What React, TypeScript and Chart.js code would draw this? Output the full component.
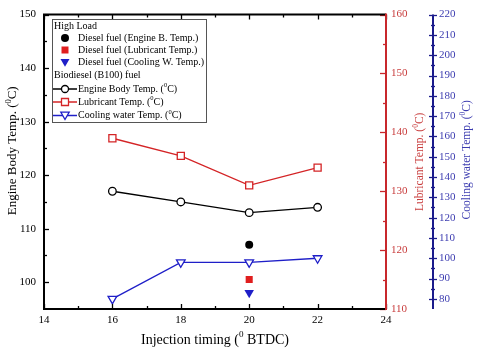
import React, { useEffect, useRef } from "react";
import { Chart, registerables } from "chart.js";

Chart.register(...registerables);

// ---- data ----
const injectionTiming = [16, 18, 20, 22];
const bioEngineBody = [117, 115, 113, 114];
const bioLubricant = [139, 136, 131, 134];
const bioCooling = [80, 98, 98, 100];
const dieselTiming = [20];
const dieselEngineBody = [107];
const dieselLubricant = [115];
const dieselCooling = [83];

const xTicks = [14, 16, 18, 20, 22, 24];
const leftTicks = [100, 110, 120, 130, 140, 150];
const redTicks = [110, 120, 130, 140, 150, 160];
const blueTicks = [80, 90, 100, 110, 120, 130, 140, 150, 160, 170, 180, 190, 200, 210, 220];

const legendTitle = "High Load";
const legendDieselLabels = [
  "Diesel fuel (Engine B. Temp.)",
  "Diesel fuel (Lubricant Temp.)",
  "Diesel fuel (Cooling W. Temp.)",
];
const legendBioTitle = "Biodiesel (B100) fuel";
const legendBioLabels = ["Engine Body Temp. (", "Lubricant Temp. (", "Cooling water Temp. ("];

const FONT = "'Liberation Serif', 'Times New Roman', serif";
const RED = "#d42426";
const RED_AXIS = "#c8282c";
const RED_TEXT = "#c83c3c";
const BLUE = "#1f1fc8";
const BLUE_AXIS = "#1c1c8c";
const BLUE_TEXT = "#3c3cb0";

type Part = { t: string; sup?: boolean };

function richWidth(ctx: CanvasRenderingContext2D, parts: Part[], size: number) {
  let w = 0;
  for (const p of parts) {
    ctx.font = `${p.sup ? size * 0.65 : size}px ${FONT}`;
    w += ctx.measureText(p.t).width;
  }
  return w;
}

function drawRich(
  ctx: CanvasRenderingContext2D,
  parts: Part[],
  x: number,
  y: number,
  size: number,
  color: string,
  align: "left" | "center"
) {
  const w = richWidth(ctx, parts, size);
  let cx = align === "center" ? x - w / 2 : x;
  ctx.fillStyle = color;
  ctx.textBaseline = "middle";
  ctx.textAlign = "left";
  for (const p of parts) {
    const s = p.sup ? size * 0.65 : size;
    ctx.font = `${s}px ${FONT}`;
    ctx.fillText(p.t, cx, p.sup ? y - size * 0.35 : y);
    cx += ctx.measureText(p.t).width;
  }
}

function drawMarker(
  ctx: CanvasRenderingContext2D,
  kind: string,
  x: number,
  y: number,
  r: number,
  color: string,
  filled: boolean
) {
  ctx.save();
  ctx.beginPath();
  if (kind === "circle") {
    ctx.arc(x, y, r, 0, Math.PI * 2);
  } else if (kind === "rect") {
    ctx.rect(x - r, y - r, 2 * r, 2 * r);
  } else {
    ctx.moveTo(x - r, y - r * 0.8);
    ctx.lineTo(x + r, y - r * 0.8);
    ctx.lineTo(x, y + r * 0.95);
    ctx.closePath();
  }
  if (filled) {
    ctx.fillStyle = color;
    ctx.fill();
  } else {
    ctx.fillStyle = "#fff";
    ctx.fill();
    ctx.strokeStyle = color;
    ctx.lineWidth = 1.3;
    ctx.stroke();
  }
  ctx.restore();
}

const framePlugin = {
  id: "frame",
  afterDraw(chart: any) {
    const ctx: CanvasRenderingContext2D = chart.ctx;
    const { left, right, top, bottom } = chart.chartArea;
    const sx = chart.scales.x;
    const sy = chart.scales.y;
    const sr = chart.scales.yRed;
    const sb = chart.scales.yBlue;
    ctx.save();
    ctx.lineCap = "butt";

    // x ticks bottom and top
    ctx.strokeStyle = "#000";
    ctx.lineWidth = 1.3;
    for (let v = 14; v <= 24; v += 1) {
      const px = Math.round(sx.getPixelForValue(v)) + 0.5;
      const len = v % 2 === 0 ? 5 : 3;
      ctx.beginPath();
      ctx.moveTo(px, bottom);
      ctx.lineTo(px, bottom - len);
      ctx.moveTo(px, top);
      ctx.lineTo(px, top + len);
      ctx.stroke();
    }
    // left ticks
    for (let v = 100; v <= 150; v += 5) {
      const py = Math.round(sy.getPixelForValue(v)) + 0.5;
      const len = v % 10 === 0 ? 5 : 3;
      ctx.beginPath();
      ctx.moveTo(left, py);
      ctx.lineTo(left + len, py);
      ctx.stroke();
    }
    // red ticks
    ctx.strokeStyle = RED_AXIS;
    for (let v = 110; v <= 160; v += 5) {
      const py = Math.round(sr.getPixelForValue(v)) + 0.5;
      const len = v % 10 === 0 ? 6 : 3;
      ctx.beginPath();
      ctx.moveTo(right, py);
      ctx.lineTo(right - len, py);
      ctx.stroke();
    }
    // blue axis
    const bx = sb.left;
    ctx.strokeStyle = BLUE_AXIS;
    ctx.lineWidth = 1.3;
    for (let v = 80; v <= 220; v += 5) {
      const py = Math.round(sb.getPixelForValue(v)) + 0.5;
      const len = v % 10 === 0 ? 4 : 2;
      ctx.beginPath();
      ctx.moveTo(bx - len, py);
      ctx.lineTo(bx + len, py);
      ctx.stroke();
    }
    ctx.lineWidth = 2;
    ctx.beginPath();
    ctx.moveTo(bx, top);
    ctx.lineTo(bx, bottom);
    ctx.stroke();

    // frame
    ctx.strokeStyle = "#000";
    ctx.lineWidth = 2;
    ctx.beginPath();
    ctx.moveTo(right, top);
    ctx.lineTo(left, top);
    ctx.lineTo(left, bottom);
    ctx.lineTo(right, bottom);
    ctx.stroke();
    ctx.strokeStyle = RED_AXIS;
    ctx.beginPath();
    ctx.moveTo(right, top - 1);
    ctx.lineTo(right, bottom + 1);
    ctx.stroke();

    // axis titles
    const midY = (top + bottom) / 2;
    ctx.save();
    ctx.translate(13, midY - 11);
    ctx.rotate(-Math.PI / 2);
    drawRich(ctx, [{ t: "Engine Body Temp. (" }, { t: "0", sup: true }, { t: "C)" }], 0, 0, 13, "#000", "center");
    ctx.restore();

    ctx.save();
    ctx.translate(420, midY);
    ctx.rotate(-Math.PI / 2);
    drawRich(ctx, [{ t: "Lubricant Temp. (" }, { t: "0", sup: true }, { t: "C)" }], 0, 0, 11.5, RED_TEXT, "center");
    ctx.restore();

    ctx.save();
    ctx.translate(467, midY - 2);
    ctx.rotate(-Math.PI / 2);
    drawRich(ctx, [{ t: "Cooling water Temp. (" }, { t: "0", sup: true }, { t: "C)" }], 0, 0, 11.5, BLUE_TEXT, "center");
    ctx.restore();

    drawRich(
      ctx,
      [{ t: "Injection timing (" }, { t: "0", sup: true }, { t: " BTDC)" }],
      (left + right) / 2,
      340,
      14,
      "#000",
      "center"
    );

    // legend
    const lx = 52.5, ly = 19.5, lw = 154, lh = 103;
    ctx.fillStyle = "#fff";
    ctx.fillRect(lx, ly, lw, lh);
    ctx.strokeStyle = "#555";
    ctx.lineWidth = 1;
    ctx.strokeRect(lx, ly, lw, lh);
    const fs = 10;
    drawRich(ctx, [{ t: legendTitle }], 54, 26, fs, "#000", "left");
    const dieselRows = [38, 50, 62.5];
    const dieselKinds = ["circle", "rect", "tri"];
    const dieselColors = ["#000", "#e01e1e", BLUE];
    const dieselR = [4, 3.5, 4.5];
    for (let i = 0; i < 3; i++) {
      drawMarker(ctx, dieselKinds[i], 65, dieselRows[i], dieselR[i], dieselColors[i], true);
      drawRich(ctx, [{ t: legendDieselLabels[i] }], 78, dieselRows[i], fs, "#000", "left");
    }
    drawRich(ctx, [{ t: legendBioTitle }], 54, 75, fs, "#000", "left");
    const bioRows = [89, 102, 115.5];
    const bioColors = ["#000", RED, BLUE];
    const bioKinds = ["circle", "rect", "tri"];
    const bioR = [3.5, 3.5, 4.2];
    for (let i = 0; i < 3; i++) {
      ctx.strokeStyle = bioColors[i];
      ctx.lineWidth = 1.5;
      ctx.beginPath();
      ctx.moveTo(53, bioRows[i]);
      ctx.lineTo(77, bioRows[i]);
      ctx.stroke();
      drawMarker(ctx, bioKinds[i], 65, bioRows[i], bioR[i], bioColors[i], false);
      drawRich(
        ctx,
        [{ t: legendBioLabels[i] }, { t: "0", sup: true }, { t: "C)" }],
        78,
        bioRows[i],
        fs,
        "#000",
        "left"
      );
    }
    ctx.restore();
  },
};

const toXY = (xs: number[], ys: number[]) => xs.map((x, i) => ({ x, y: ys[i] }));

export default function App() {
  const ref = useRef<HTMLCanvasElement | null>(null);
  useEffect(() => {
    document.body.style.margin = "0";
    if (!ref.current) return;
    const tickFont = { family: FONT, size: 11 };
    const setTicks = (arr: number[]) => (s: any) => {
      s.ticks = arr.map((v) => ({ value: v }));
    };
    const chart = new Chart(ref.current, {
      type: "line",
      data: {
        datasets: [
          {
            data: toXY(injectionTiming, bioEngineBody),
            yAxisID: "y",
            borderColor: "#000",
            borderWidth: 1.3,
            pointStyle: "circle",
            pointRadius: 3.8,
            pointBorderWidth: 1.3,
            pointBackgroundColor: "#fff",
            pointBorderColor: "#000",
          },
          {
            data: toXY(injectionTiming, bioLubricant),
            yAxisID: "yRed",
            borderColor: RED,
            borderWidth: 1.3,
            pointStyle: "rect",
            pointRadius: 5,
            pointBorderWidth: 1.3,
            pointBackgroundColor: "#fff",
            pointBorderColor: RED,
          },
          {
            data: toXY(injectionTiming, bioCooling),
            yAxisID: "yBlue",
            borderColor: BLUE,
            borderWidth: 1.3,
            pointStyle: "triangle",
            pointRotation: 180,
            pointRadius: 5,
            pointBorderWidth: 1.3,
            pointBackgroundColor: "#fff",
            pointBorderColor: BLUE,
          },
          {
            data: toXY(dieselTiming, dieselEngineBody),
            yAxisID: "y",
            showLine: false,
            pointStyle: "circle",
            pointRadius: 4,
            pointBorderWidth: 0,
            pointBackgroundColor: "#000",
            pointBorderColor: "#000",
          },
          {
            data: toXY(dieselTiming, dieselLubricant),
            yAxisID: "yRed",
            showLine: false,
            pointStyle: "rect",
            pointRadius: 5,
            pointBorderWidth: 0,
            pointBackgroundColor: "#e01e1e",
            pointBorderColor: "#e01e1e",
          },
          {
            data: toXY(dieselTiming, dieselCooling),
            yAxisID: "yBlue",
            showLine: false,
            pointStyle: "triangle",
            pointRotation: 180,
            pointRadius: 5.5,
            pointBorderWidth: 0,
            pointBackgroundColor: BLUE,
            pointBorderColor: BLUE,
          },
        ] as any,
      },
      options: {
        animation: false,
        responsive: false,
        maintainAspectRatio: false,
        layout: { padding: { top: 11, left: 0, right: 0, bottom: 0 } },
        plugins: { legend: { display: false }, tooltip: { enabled: false } },
        scales: {
          x: {
            type: "linear",
            min: 14,
            max: 24,
            afterBuildTicks: setTicks(xTicks),
            afterFit: (s: any) => {
              s.height = 44;
            },
            grid: { display: false, drawTicks: false },
            border: { display: false },
            ticks: { font: tickFont, color: "#000", padding: 5, maxRotation: 0 },
          },
          y: {
            type: "linear",
            position: "left",
            min: 95,
            max: 150,
            afterBuildTicks: setTicks(leftTicks),
            afterFit: (s: any) => {
              s.width = 44;
            },
            grid: { display: false, drawTicks: false },
            border: { display: false },
            ticks: { font: tickFont, color: "#000", padding: 8 },
          },
          yRed: {
            type: "linear",
            position: "right",
            min: 110,
            max: 160,
            afterBuildTicks: setTicks(redTicks),
            afterFit: (s: any) => {
              s.width = 47;
            },
            grid: { display: false, drawTicks: false },
            border: { display: false },
            ticks: { font: tickFont, color: RED_TEXT, padding: 5 },
          },
          yBlue: {
            type: "linear",
            position: "right",
            min: 75,
            max: 220,
            afterBuildTicks: setTicks(blueTicks),
            afterFit: (s: any) => {
              s.width = 47;
            },
            grid: { display: false, drawTicks: false },
            border: { display: false },
            ticks: { font: tickFont, color: BLUE_TEXT, padding: 6 },
          },
        },
      } as any,
      plugins: [framePlugin],
    });
    return () => chart.destroy();
  }, []);
  return (
    <div style={{ width: 480, height: 353, background: "#fff" }}>
      <canvas ref={ref} width={480} height={353} style={{ display: "block" }} />
    </div>
  );
}
